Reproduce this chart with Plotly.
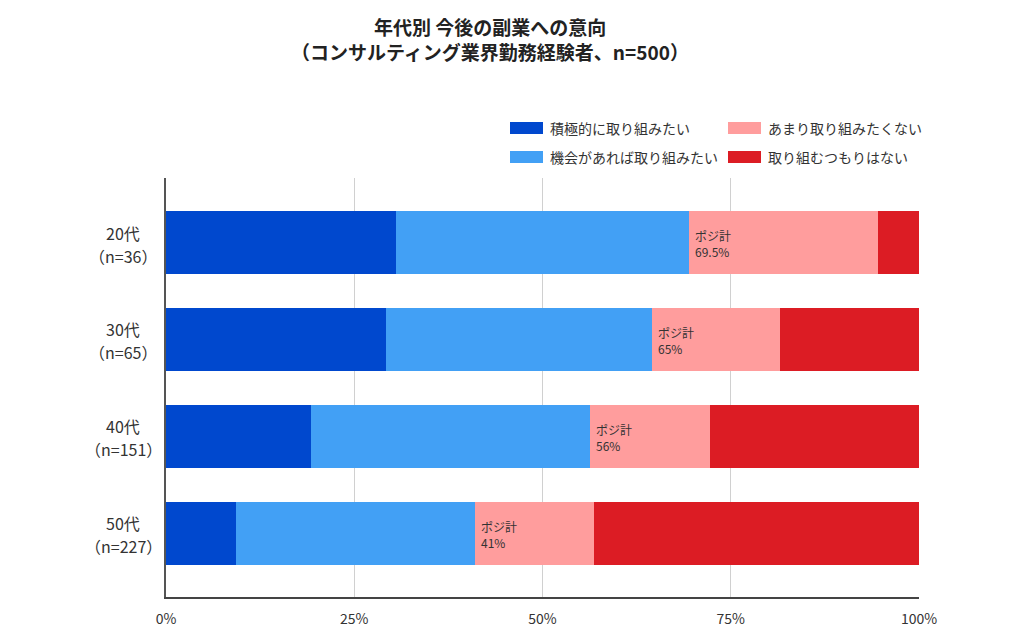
import plotly.graph_objects as go

# 年代別 今後の副業への意向（%）
title_lines = ["年代別 今後の副業への意向", "（コンサルティング業界勤務経験者、n=500）"]
age_names = ["20代", "30代", "40代", "50代"]
age_n = ["（n=36）", "（n=65）", "（n=151）", "（n=227）"]
series_names = ["積極的に取り組みたい", "機会があれば取り組みたい", "あまり取り組みたくない", "取り組むつもりはない"]
active = [30.6, 29.2, 19.2, 9.3]
if_chance = [38.9, 35.4, 37.1, 31.7]
not_much = [25.0, 16.9, 15.9, 15.8]
never = [5.5, 18.5, 27.8, 43.2]
posi_labels = ["69.5%", "65%", "56%", "41%"]
x_ticks = [0, 25, 50, 75, 100]

colors = ["#0048CE", "#42A0F5", "#FF9D9D", "#DC1C24"]
FONT = "Noto Sans CJK JP, Noto Sans, sans-serif"

# ページ余白(8px)を見込んだ図のサイズ
W, H = 1008, 626
L, R, T, B = 158, 97, 170, 37
PW, PH = W - L - R, H - T - B


def py_paper(screen_y):
    # 画面上のy(px) -> paper座標
    return (T + PH + 8 - screen_y) / PH


def px_paper(screen_x):
    return (screen_x - 8 - L) / PW


ypos = list(range(len(age_names)))
fig = go.Figure()
for name, vals, col in zip(series_names, [active, if_chance, not_much, never], colors):
    fig.add_trace(go.Bar(
        y=ypos, x=vals, name=name, orientation="h",
        marker=dict(color=col, line=dict(width=0)),
        width=0.65, showlegend=False,
        hovertemplate=name + ": %{x:.1f}%<extra></extra>",
    ))

# タイトル（2行）
for txt, sy in zip(title_lines, [27, 52]):
    fig.add_annotation(
        x=px_paper(490), y=py_paper(sy), xref="paper", yref="paper",
        text=f"<b>{txt}</b>", showarrow=False, xanchor="center", yanchor="middle",
        borderpad=0, font=dict(size=19, color="#222", family=FONT),
    )

# ポジ計 ラベル（ピンク区間の左端）
for i, lab in enumerate(posi_labels):
    fig.add_annotation(
        x=active[i] + if_chance[i], y=i, xref="x", yref="y",
        text="ポジ計<br>" + lab, showarrow=False,
        xanchor="left", yanchor="middle", align="left", xshift=4, yshift=-1,
        font=dict(size=12, color="#333", family=FONT),
    )

# 年代ラベル（2行、中央揃え）
for i in ypos:
    for txt, dy in [(age_names[i], 10), (age_n[i], -13)]:
        fig.add_annotation(
            x=-43 / PW, y=i, xref="paper", yref="y", yshift=dy,
            text=txt, showarrow=False, xanchor="center", yanchor="middle",
            font=dict(size=16, color="#333", family=FONT),
        )

# 凡例（2列）
legend_pos = [(510, 128), (510, 157), (728, 128), (728, 157)]
for (sx, sy), name, col in zip(legend_pos, series_names, colors):
    fig.add_shape(
        type="rect", xref="paper", yref="paper",
        x0=px_paper(sx), x1=px_paper(sx + 33),
        y0=py_paper(sy + 6), y1=py_paper(sy - 6),
        fillcolor=col, line=dict(width=0),
    )
    fig.add_annotation(
        x=px_paper(sx + 38), y=py_paper(sy), xref="paper", yref="paper",
        text=name, showarrow=False, xanchor="left", yanchor="middle",
        font=dict(size=14, color="#333", family=FONT),
    )

fig.update_layout(
    barmode="stack",
    width=W, height=H,
    margin=dict(l=L, r=R, t=T, b=B),
    paper_bgcolor="white", plot_bgcolor="white",
    font=dict(family=FONT, color="#333"),
    showlegend=False,
)
fig.update_xaxes(
    range=[0, 100], tickvals=x_ticks, ticktext=[f"{v}%" for v in x_ticks],
    showgrid=True, gridcolor="#d0d0d0", gridwidth=1,
    showline=True, linecolor="#444", linewidth=1.5,
    zeroline=False, ticks="", ticklabelstandoff=8, automargin=False,
    tickfont=dict(size=14, color="#333"),
)
fig.update_yaxes(
    range=[3.655, -0.665], tickvals=ypos, showticklabels=False,
    showgrid=False, showline=True, linecolor="#555", linewidth=1.5,
    zeroline=False, ticks="", automargin=False,
)

fig.write_html("out.html")
